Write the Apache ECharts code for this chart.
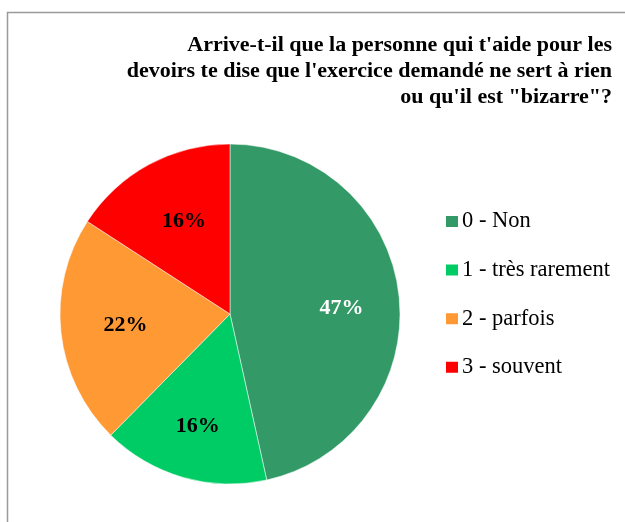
<!DOCTYPE html>
<html>
<head>
<meta charset="utf-8">
<script src="https://cdn.jsdelivr.net/npm/echarts@6/dist/echarts.min.js"></script>
<style>
  html, body { margin: 0; padding: 0; background: #fff; }
  #chart { width: 625px; height: 522px; }
</style>
</head>
<body>
<div id="chart"></div>
<script>
// valeurs (en %)
var categories = ['0 - Non', '1 - très rarement', '2 - parfois', '3 - souvent']
var values = [47, 16, 22, 16]
var colors = ['#339966', '#00CC66', '#FF9933', '#FF0000']
var labelColors = ['#fff', '#000', '#000', '#000']
var labelOffsets = [[24, 4], [-8, 28], [-17, 2], [-4, -15]]

var titleText = "Arrive-t-il que la personne qui t'aide pour les\ndevoirs te dise que l'exercice demandé ne sert à rien\nou qu'il est \"bizarre\"?"
var serif = "'Liberation Serif', 'Times New Roman', serif"

var chart = echarts.init(document.getElementById('chart'))

chart.setOption({
  animation: false,
  color: colors,
  title: {
    text: titleText,
    left: 612,
    top: 32,
    padding: 0,
    textAlign: 'right',
    textStyle: {
      fontFamily: serif,
      fontWeight: 'bold',
      fontSize: 22,
      lineHeight: 26,
      color: '#000',
      align: 'right'
    }
  },
  legend: {
    orient: 'vertical',
    left: 444,
    top: 210,
    padding: 0,
    itemWidth: 14,
    itemHeight: 13,
    itemGap: 25.6,
    icon: 'rect',
    data: categories,
    textStyle: {
      fontFamily: serif,
      fontSize: 22.5,
      lineHeight: 20,
      color: '#000',
      padding: [0, 0, 0, -2]
    }
  },
  graphic: [
    {
      type: 'polyline',
      shape: { points: [[7.5, 530], [7.5, 12.5], [630, 12.5]] },
      style: { stroke: '#9a9a9a', lineWidth: 1.5, fill: null }
    }
  ],
  series: [
    {
      type: 'pie',
      center: [230, 314],
      radius: [0, 170],
      startAngle: 90,
      clockwise: true,
      avoidLabelOverlap: false,
      itemStyle: { borderColor: '#fff', borderWidth: 0.5 },
      label: {
        show: true,
        position: 'inside',
        formatter: '{c}%',
        fontFamily: serif,
        fontWeight: 'bold',
        fontSize: 22
      },
      labelLine: { show: false },
      emphasis: { disabled: true },
      data: categories.map(function (name, i) {
        return {
          name: name,
          value: values[i],
          label: { color: labelColors[i], offset: labelOffsets[i] }
        }
      })
    }
  ]
})
</script>
</body>
</html>
